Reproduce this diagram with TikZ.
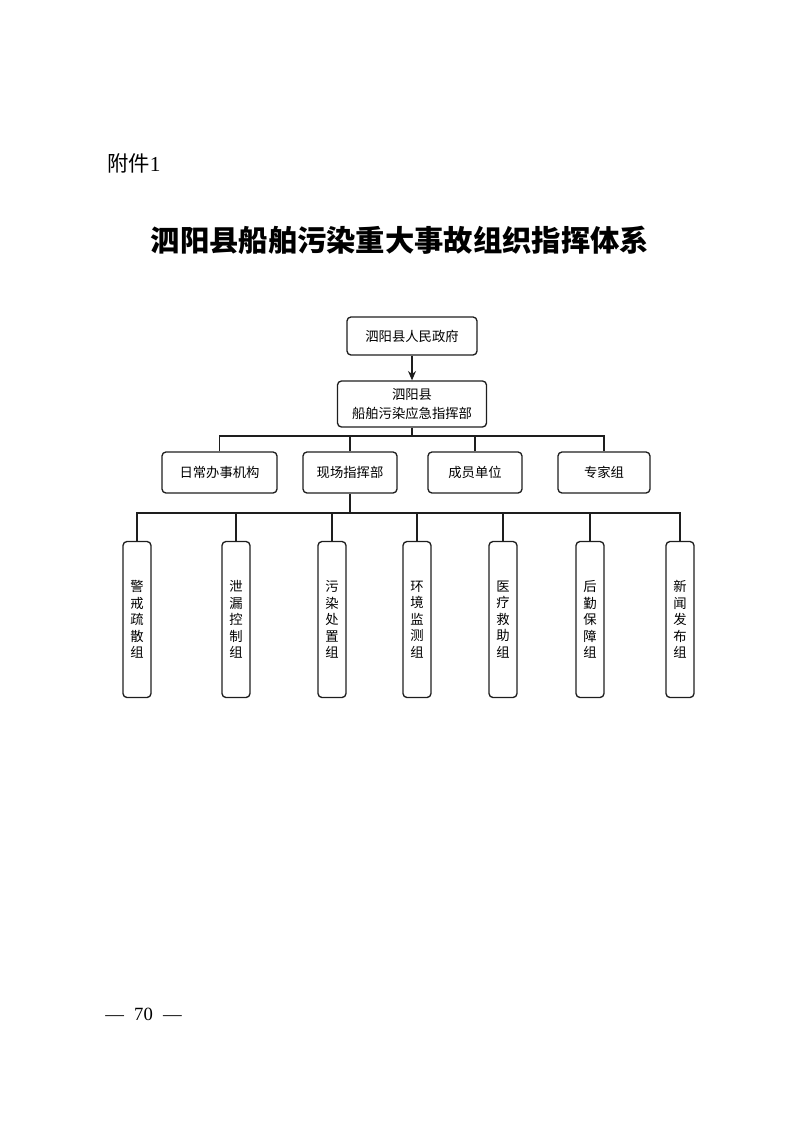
\documentclass[tikz,border=0pt]{standalone}
\usepackage{fontspec}
\usepackage{tikz}
\usetikzlibrary{arrows.meta}
\setmainfont{Liberation Serif}
\newfontfamily\cjk{Noto Sans CJK SC}
\definecolor{linegray}{RGB}{30,30,30}

\tikzset{
  orgbox/.style={draw=linegray,line width=1pt,rounded corners=3pt,align=center,inner sep=0pt,
    font={\cjk\fontsize{10}{14}\selectfont}},
  groupbox/.style={draw=linegray,line width=1pt,rounded corners=3pt,align=center,inner sep=0pt,
    minimum width=21pt,minimum height=117pt,font={\cjk\fontsize{10}{12.4}\selectfont}},
  link/.style={draw=linegray,line width=0.9pt}
}

\begin{document}
\begin{tikzpicture}[x=0.75pt,y=-0.75pt]
\useasboundingbox (0,0) rectangle (793,1122);
% Page heading
\node[anchor=west,inner sep=0pt] (annex) at (107,163) {{\cjk\fontsize{16}{16}\selectfont 附件}{\fontsize{16}{16}\selectfont 1}};
\node[inner sep=0pt] (title) at (400,240) {\cjk\bfseries\fontsize{22}{22}\selectfont 泗阳县船舶污染重大事故组织指挥体系};
% Top levels
\node[orgbox,minimum width=97.5pt,minimum height=28.5pt] (gov) at (412,336) {泗阳县人民政府};
\node[orgbox,minimum width=111.75pt,minimum height=34.5pt] (cmd) at (412,404) {泗阳县\\船舶污染应急指挥部};
\draw[link,-{Stealth[length=7pt,width=6pt]}] (gov) -- (cmd);
% Second level
\node[orgbox,minimum width=86.25pt,minimum height=30.75pt] (office) at (219.5,472.5) {日常办事机构};
\node[orgbox,minimum width=70.5pt,minimum height=30.75pt] (site) at (350,472.5) {现场指挥部};
\node[orgbox,minimum width=70.5pt,minimum height=30.75pt] (member) at (475,472.5) {成员单位};
\node[orgbox,minimum width=69pt,minimum height=30.75pt] (expert) at (604,472.5) {专家组};
\coordinate (busa) at (412,436);
\draw[link] (cmd) -- (busa);
\draw[link] (office.north) |- (busa) -| (expert.north);
\draw[link] (site.north) -- (site.north |- busa);
\draw[link] (member.north) -- (member.north |- busa);
% Working groups
\node[groupbox] (warn) at (137,619.5) {警\\戒\\疏\\散\\组};
\node[groupbox] (leak) at (236,619.5) {泄\\漏\\控\\制\\组};
\node[groupbox] (treat) at (332,619.5) {污\\染\\处\\置\\组};
\node[groupbox] (monitor) at (417,619.5) {环\\境\\监\\测\\组};
\node[groupbox] (rescue) at (503,619.5) {医\\疗\\救\\助\\组};
\node[groupbox] (supply) at (590,619.5) {后\\勤\\保\\障\\组};
\node[groupbox] (news) at (680,619.5) {新\\闻\\发\\布\\组};
\coordinate (busb) at (350,513);
\draw[link] (site) -- (busb);
\draw[link] (warn.north) |- (busb) -| (news.north);
\draw[link] (leak.north) -- (leak.north |- busb);
\draw[link] (treat.north) -- (treat.north |- busb);
\draw[link] (monitor.north) -- (monitor.north |- busb);
\draw[link] (rescue.north) -- (rescue.north |- busb);
\draw[link] (supply.north) -- (supply.north |- busb);
% Page number
\node[anchor=west,inner sep=0pt] (page) at (105,1014) {\fontsize{14}{14}\selectfont —\hspace{0.55em}70\hspace{0.55em}—};
\end{tikzpicture}
\end{document}
